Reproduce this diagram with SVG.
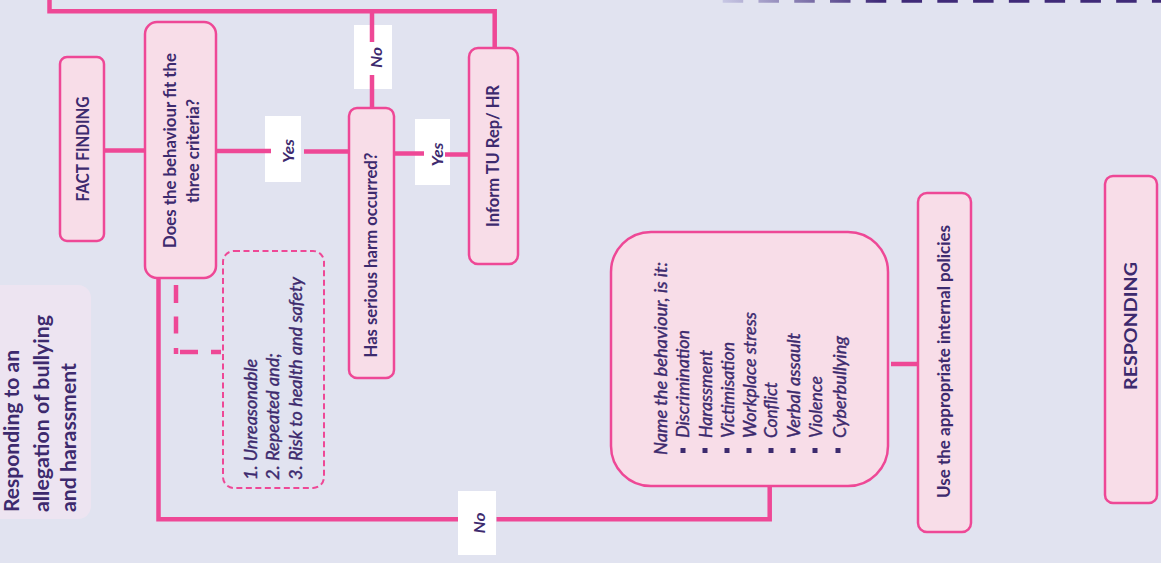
<svg xmlns="http://www.w3.org/2000/svg" width="1161" height="563" viewBox="0 0 1161 563">
<defs>
<linearGradient id="dg" gradientUnits="userSpaceOnUse" x1="720" y1="0" x2="880" y2="0">
<stop offset="0" stop-color="#CACAE6"/>
<stop offset="1" stop-color="#3F2A78"/>
</linearGradient>
<style>
.box{fill:#F8DDE8;stroke:#EE4896;stroke-width:2.5}
.conn{stroke:#EE4896;stroke-width:4.5;fill:none}
.crit{fill:none;stroke:#EE4896;stroke-width:2;stroke-dasharray:6 3.5}
.lbl{fill:#FFFFFF}
.bul{fill:#3D2A6E}
text{font-family:Lato,"Open Sans","Liberation Sans",sans-serif;fill:#3D2A6E;dominant-baseline:central;font-size:16.5px}
.c{text-anchor:middle}
.s{text-anchor:start}
.b{font-weight:700}
.i{font-style:italic}
.m{stroke:#3D2A6E;stroke-width:0.4}
.lb{font-size:16px}
</style>
</defs>
<rect width="1161" height="563" fill="#E1E3F0"/>
<line x1="722.7" y1="0" x2="1161" y2="0" stroke="url(#dg)" stroke-width="5.5" stroke-dasharray="20.5 15.27"/>

<g id="title">
<rect x="-15" y="285" width="106" height="234" rx="13" fill="#EDE4F1"/>
<text class="s b" style="font-size:20.5px" transform="translate(11,512) rotate(-90)" textLength="162" lengthAdjust="spacingAndGlyphs">Responding to an</text>
<text class="s b" style="font-size:20.5px" transform="translate(41,512) rotate(-90)" textLength="197" lengthAdjust="spacingAndGlyphs">allegation of bullying</text>
<text class="s b" style="font-size:20.5px" transform="translate(68,512) rotate(-90)" textLength="149" lengthAdjust="spacingAndGlyphs">and harassment</text>
</g>

<g id="connectors">
<path class="conn" d="M49.5,0 V11.3 H494.7 V48"/>
<path class="conn" d="M104,150.5 H145"/>
<path class="conn" d="M158.5,279 V519.3 H466"/>
<path class="conn" d="M496.5,519.3 H769.7 V486"/>
<path class="conn" d="M891,364 H917"/>
<path class="conn" d="M176,285 V303 M176,316.5 V333.5 M176,348 V354 M180,352 H198 M211,352 H221"/>
<rect class="lbl" x="265" y="116" width="36" height="66"/>
<rect class="lbl" x="354" y="25" width="38" height="64"/>
<rect class="lbl" x="415" y="119" width="35" height="66"/>
<rect class="lbl" x="458" y="491" width="38" height="64"/>
<path class="conn" d="M216,151 H271 M304,151.5 H349"/>
<path class="conn" d="M372,11 V42 M372,75 V108"/>
<path class="conn" d="M394,153.5 H424 M445,154.5 H469"/>
<text class="c b i lb" transform="translate(287,151) rotate(-90)" textLength="24" lengthAdjust="spacingAndGlyphs">Yes</text>
<text class="c b i lb" transform="translate(375,57.5) rotate(-90)" textLength="21" lengthAdjust="spacingAndGlyphs">No</text>
<text class="c b i lb" transform="translate(436,154.5) rotate(-90)" textLength="24" lengthAdjust="spacingAndGlyphs">Yes</text>
<text class="c b i lb" transform="translate(478.5,523) rotate(-90)" textLength="21" lengthAdjust="spacingAndGlyphs">No</text>
</g>

<g id="fact-finding">
<rect class="box" x="60" y="57" width="44" height="184" rx="7"/>
<text class="c b" transform="translate(83,149) rotate(-90)" textLength="105" lengthAdjust="spacingAndGlyphs">FACT FINDING</text>
</g>

<g id="criteria-question">
<rect class="box" x="145" y="22" width="71" height="256" rx="12"/>
<text class="c b" transform="translate(170,150.5) rotate(-90)" textLength="195" lengthAdjust="spacingAndGlyphs">Does the behaviour fit the</text>
<text class="c b" transform="translate(193,151) rotate(-90)" textLength="104" lengthAdjust="spacingAndGlyphs">three criteria?</text>
</g>

<g id="criteria-list">
<rect class="crit" x="223" y="251" width="101" height="237" rx="11"/>
<text class="s i m" transform="translate(251,480) rotate(-90)" textLength="121" lengthAdjust="spacingAndGlyphs">1. Unreasonable</text>
<text class="s i m" transform="translate(273,480) rotate(-90)" textLength="127" lengthAdjust="spacingAndGlyphs">2. Repeated and;</text>
<text class="s i m" transform="translate(296,480) rotate(-90)" textLength="203" lengthAdjust="spacingAndGlyphs">3. Risk to health and safety</text>
</g>

<g id="serious-harm">
<rect class="box" x="349" y="108" width="45" height="270" rx="8"/>
<text class="c b" transform="translate(371,255) rotate(-90)" textLength="205" lengthAdjust="spacingAndGlyphs">Has serious harm occurred?</text>
</g>

<g id="inform">
<rect class="box" x="469" y="48" width="49" height="216" rx="9"/>
<text class="c b" transform="translate(493,156) rotate(-90)" textLength="142" lengthAdjust="spacingAndGlyphs">Inform TU Rep/ HR</text>
</g>

<g id="name-behaviour">
<rect class="box" x="611" y="232" width="277" height="254" rx="40"/>
<text class="s i m" transform="translate(661,455) rotate(-90)" textLength="193" lengthAdjust="spacingAndGlyphs">Name the behaviour, is it:</text>
<rect class="bul" x="680.5" y="448" width="5" height="5"/>
<rect class="bul" x="702.5" y="448" width="5" height="5"/>
<rect class="bul" x="724.5" y="448" width="5" height="5"/>
<rect class="bul" x="746.5" y="448" width="5" height="5"/>
<rect class="bul" x="768.5" y="448" width="5" height="5"/>
<rect class="bul" x="790.5" y="448" width="5" height="5"/>
<rect class="bul" x="812.5" y="448" width="5" height="5"/>
<rect class="bul" x="835.5" y="448" width="5" height="5"/>
<text class="s i m" transform="translate(683,438) rotate(-90)" textLength="108" lengthAdjust="spacingAndGlyphs">Discrimination</text>
<text class="s i m" transform="translate(706,438) rotate(-90)" textLength="88" lengthAdjust="spacingAndGlyphs">Harassment</text>
<text class="s i m" transform="translate(728,438) rotate(-90)" textLength="96" lengthAdjust="spacingAndGlyphs">Victimisation</text>
<text class="s i m" transform="translate(750,438) rotate(-90)" textLength="126" lengthAdjust="spacingAndGlyphs">Workplace stress</text>
<text class="s i m" transform="translate(771,438) rotate(-90)" textLength="56" lengthAdjust="spacingAndGlyphs">Conflict</text>
<text class="s i m" transform="translate(794,438) rotate(-90)" textLength="105" lengthAdjust="spacingAndGlyphs">Verbal assault</text>
<text class="s i m" transform="translate(816,438) rotate(-90)" textLength="62" lengthAdjust="spacingAndGlyphs">Violence</text>
<text class="s i m" transform="translate(840,438) rotate(-90)" textLength="102" lengthAdjust="spacingAndGlyphs">Cyberbullying</text>
</g>

<g id="policies">
<rect class="box" x="918" y="193" width="53" height="339" rx="9"/>
<text class="c b" transform="translate(944,361.5) rotate(-90)" textLength="273" lengthAdjust="spacingAndGlyphs">Use the appropriate internal policies</text>
</g>

<g id="responding">
<rect class="box" x="1105" y="176" width="52" height="327" rx="8"/>
<text class="c b" transform="translate(1131,326) rotate(-90)" textLength="128" lengthAdjust="spacingAndGlyphs">RESPONDING</text>
</g>
</svg>
